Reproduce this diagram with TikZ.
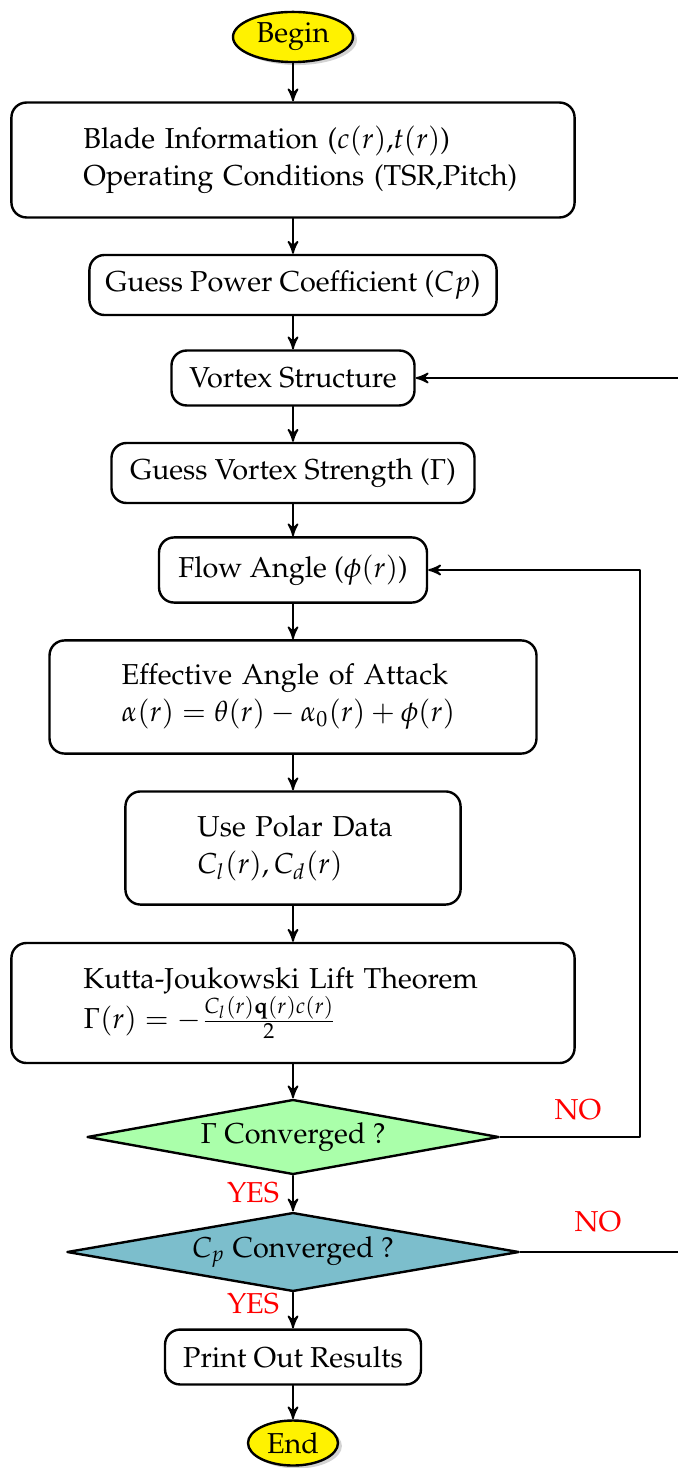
\documentclass[tikz,border=0pt]{standalone}
\usepackage[T1]{fontenc}
\usepackage{mathpazo}
\usepackage{tikz}
\usetikzlibrary{arrows}
\usetikzlibrary{shapes.geometric}
\usetikzlibrary{shadows}
\definecolor{decgreen}{RGB}{170,255,170}
\definecolor{decblue}{RGB}{124,190,204}
\tikzset{
  terminal/.style={ellipse,draw,thick,fill=yellow,inner sep=1pt,
    drop shadow={opacity=0.35,shadow xshift=1.3pt,shadow yshift=-1pt}},
  block/.style={rectangle,rounded corners=5pt,draw,thick,fill=white,align=center},
  infobox/.style={block,align=left,inner xsep=24pt},
  decision/.style={diamond,draw,thick,inner sep=1pt},
  flow/.style={->,line width=0.6pt},
  answer/.style={text=red}
}

\begin{document}
\begin{tikzpicture}[line cap=round,line join=round,>=stealth',x=0.3333pt,y=-0.3333pt,
  font=\fontsize{9.6pt}{12.3pt}\selectfont]
\useasboundingbox (0,0) rectangle (678,1468);
% main column
\node[terminal,minimum width=40pt,minimum height=16.7pt] (begin) at (293,37) {Begin};
\node[infobox,text width=139.7pt,minimum height=38.3pt] (blade) at (293,160) {\mbox{Blade Information ($c(r)$,$t(r)$)}\\\mbox{Operating Conditions (TSR,Pitch)}};
\node[block,minimum width=135.7pt,minimum height=20pt] (guesscp) at (293,285) {Guess Power Coefficient ($Cp$)};
\node[block,minimum width=81pt,minimum height=18.3pt] (vortex) at (293,378) {Vortex Structure};
\node[block,minimum width=121pt,minimum height=20pt] (strength) at (293,473) {Guess Vortex Strength ($\Gamma$)};
\node[block,minimum width=89.3pt,minimum height=21.7pt] (angle) at (293,570) {Flow Angle ($\phi(r)$)};
\node[infobox,text width=114.3pt,minimum height=37.7pt] (attack) at (293,697) {\mbox{Effective Angle of Attack}\\\mbox{$\alpha(r)=\theta(r)-\alpha_0(r)+\phi(r)$}};
\node[infobox,text width=63.7pt,minimum height=37.7pt] (polar) at (293,848) {\mbox{Use Polar Data}\\\mbox{$C_l(r),C_d(r)$}};
\node[infobox,text width=139.7pt,minimum height=40pt] (kutta) at (293,1003) {\mbox{Kutta-Joukowski Lift Theorem}\\\mbox{$\Gamma(r)=-\frac{C_l(r)\mathbf{q}(r)c(r)}{2}$}};
\node[decision,fill=decgreen,aspect=5.5,minimum width=137.3pt,minimum height=25pt] (gconv) at (293,1137) {$\Gamma$ Converged ?};
\node[decision,fill=decblue,aspect=5.7,minimum width=150.7pt,minimum height=26.3pt] (cpconv) at (293,1252) {$C_p$ Converged ?};
\node[block,minimum width=85.3pt,minimum height=18.3pt] (results) at (293,1357) {Print Out Results};
\node[terminal,minimum width=30pt,minimum height=15pt] (end) at (293,1443) {End};
% turning points of the loops
\coordinate (gturn) at (640,0);
\coordinate (cturn) at (684,0);
% connectors
\draw[flow] (begin) -- (blade);
\draw[flow] (blade) -- (guesscp);
\draw[flow] (guesscp) -- (vortex);
\draw[flow] (vortex) -- (strength);
\draw[flow] (strength) -- (angle);
\draw[flow] (angle) -- (attack);
\draw[flow] (attack) -- (polar);
\draw[flow] (polar) -- (kutta);
\draw[flow] (kutta) -- (gconv);
\draw[flow] (gconv) -- (cpconv);
\draw[flow] (cpconv) -- (results);
\draw[flow] (results) -- (end);
\draw[flow] (gconv.east) -- (gconv.east -| gturn) -- (angle.east -| gturn) -- (angle.east);
\draw[flow] (cpconv.east) -- (cpconv.east -| cturn) -- (vortex.east -| cturn) -- (vortex.east);
% labels
\node[answer] (gno) at (578,1110) {NO};
\node[answer] (gyes) at (253,1193) {YES};
\node[answer] (cpno) at (598,1222) {NO};
\node[answer] (cpyes) at (253,1304) {YES};
\end{tikzpicture}
\end{document}
